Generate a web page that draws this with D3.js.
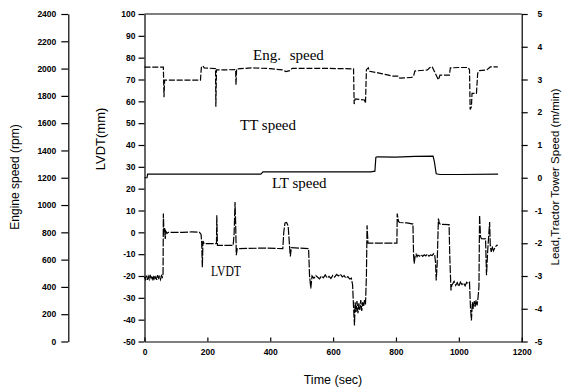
<!DOCTYPE html>
<html>
<head>
<meta charset="utf-8">
<script src="https://cdn.jsdelivr.net/npm/d3@7"></script>
<style>
body { margin: 0; background: #fff; }
svg { display: block; font-family: "Liberation Sans", Arial, sans-serif; }
.tick text { font-size: 8.5px; font-weight: bold; fill: #000; }
.domain, .tick line { stroke: #000; stroke-width: 1.2; }
.title { font-size: 12px; fill: #000; }
.note { font-family: "Liberation Serif", "Times New Roman", serif; font-size: 15px; fill: #000; }
.trace { fill: none; stroke: #000; stroke-width: 1.2; }
</style>
</head>
<body>
<svg id="main-svg" width="564" height="389"></svg>
<script>
// values
const timeTicks = [0, 200, 400, 600, 800, 1000, 1200];
const engTicks = [0, 200, 400, 600, 800, 1000, 1200, 1400, 1600, 1800, 2000, 2200, 2400];
const lvdtTicks = [-50, -40, -30, -20, -10, 0, 10, 20, 30, 40, 50, 60, 70, 80, 90, 100];
const speedTicks = [-5, -4, -3, -2, -1, 0, 1, 2, 3, 4, 5];

const engTime = [0, 60, 62, 64, 178, 181, 186, 190, 226, 227, 229, 290, 291, 293, 340, 400, 440, 450, 462, 470,
	560, 665, 667, 670, 700, 703, 706, 712, 716, 735, 750, 765, 790, 808, 812, 850, 856, 860, 900, 908,
	915, 920, 935, 940, 970, 973, 1000, 1030, 1034, 1036, 1040, 1042, 1056, 1060, 1064, 1089, 1100, 1124];
const engRpm = [2010, 2010, 1790, 1915, 1915, 2010, 2020, 2005, 2000, 1720, 1990, 1992, 1880, 1998, 2005, 2000, 1990, 1978, 1985, 2002,
	2002, 1998, 1740, 1778, 1770, 1745, 1992, 2005, 1980, 1972, 1965, 1958, 1945, 1945, 1930, 1935, 1945, 1982, 1990, 2008,
	2015, 1990, 1918, 1952, 1952, 2005, 2008, 2008, 1990, 1700, 1720, 1818, 1818, 1965, 1985, 1990, 2012, 2012];

const ltTime = [0, 8, 10, 370, 377, 720, 733, 736, 740, 800, 860, 918, 922, 928, 940, 1000, 1125];
const ltSpeed = [0.0, 0.0, 0.11, 0.11, 0.18, 0.18, 0.2, 0.62, 0.64, 0.63, 0.65, 0.66, 0.5, 0.12, 0.1, 0.1, 0.11];

const lvdtTime = [0, 3, 6, 9, 12, 15, 18, 21, 24, 27, 30, 33, 36, 39, 42, 45, 48, 51, 54, 57,
	59, 60, 62, 64, 66, 68, 72, 76, 120, 150, 175, 180, 182, 184, 186, 190, 226, 229, 230, 232,
	282, 285, 288, 290, 292, 295, 380, 440, 443, 447, 452, 457, 462, 464, 467, 522, 525, 529, 533, 539,
	545, 551, 557, 563, 569, 575, 581, 587, 593, 599, 605, 611, 617, 623, 629, 635, 641, 647, 653, 658,
	662, 665, 668, 670, 673, 676, 679, 682, 685, 688, 691, 694, 697, 700, 703, 706, 708, 711, 800, 803,
	804, 808, 812, 835, 854, 856, 858, 861, 864, 867, 870, 875, 880, 885, 890, 895, 900, 905, 910, 915,
	920, 923, 926, 928, 931, 935, 938, 941, 969, 971, 975, 978, 981, 985, 990, 995, 1000, 1005, 1010, 1015,
	1020, 1025, 1030, 1034, 1037, 1040, 1043, 1046, 1049, 1052, 1055, 1058, 1061, 1064, 1066, 1069, 1072, 1085, 1088, 1092,
	1098, 1100, 1103, 1106, 1110, 1115, 1120, 1124];
const lvdtMm = [-20.5, -21.5, -19.8, -21.8, -20.2, -21.5, -19.5, -21, -20, -22, -19.8, -21.2, -20.4, -21.8, -19.6, -21, -20.2, -21.6, -19.8, -20.5,
	-19, 8.6, -1, 2, -3, 0.5, -0.5, 0, 0, 0.2, 0, -1, -5, -16, -4, -5.2, -5.2, -5, 7.8, -6,
	-6, -1, 13.9, 4, -10.5, -7.5, -7.2, -7.5, 0, 4.3, 4.5, 3, -7.5, -11, -7, -7.5, -19.7, -25.7, -20, -21,
	-19.8, -20.6, -21.3, -20, -20.8, -19.5, -20.9, -20.2, -21.1, -19.7, -20.5, -19.3, -20, -19.1, -20.4, -19.8, -21, -20.3, -21.4, -21,
	-24, -34, -42.7, -32, -36.5, -31.5, -37, -32.5, -35.5, -31, -36, -32, -34, -31, -33, -20, 3.2, -4.9, -4.9, -4.9,
	8.6, 5, 4.5, 4.3, 3.8, -10.5, -14.3, -10.8, -10, -11.2, -10.4, -10.9, -10.2, -11, -10.3, -10.8, -10, -10.9, -10.3, -10.6,
	-9.8, -10, -14, -22, -15, 6.3, 4.2, 3.7, 3.5, -10, -26.6, -24, -23.5, -22.5, -24.3, -23, -24.8, -22.8, -23.9, -23.2,
	-24.5, -22.9, -23.6, -23, -34.3, -40.4, -32, -35, -31.5, -34, -31, -33.5, -30, -25, 7.8, -2, -2.9, -3, -19.7, -8,
	4.7, -6, -9, -6.5, -8.5, -7, -6, -6];

const plotLeft = 144.5, plotRight = 521.7, plotTop = 14, plotBottom = 341.5;

var svg = d3.select('#main-svg');

var x = d3.scaleLinear().domain([0, 1200]).range([plotLeft, plotRight]);
var yEng = d3.scaleLinear().domain([0, 2400]).range([plotBottom, plotTop]);
var yLvdt = d3.scaleLinear().domain([-50, 100]).range([plotBottom, plotTop]);
var ySpeed = d3.scaleLinear().domain([-5, 5]).range([plotBottom, plotTop]);

var plain = d => String(d);

// frame top
svg.append('line')
	.attr('x1', plotLeft).attr('x2', plotRight)
	.attr('y1', plotTop).attr('y2', plotTop)
	.attr('stroke', '#000').attr('stroke-width', 1.2);

svg.append('g')
	.attr('transform', `translate(0,${plotBottom})`)
	.call(d3.axisBottom(x).tickValues(timeTicks).tickFormat(plain)
		.tickSizeInner(-4).tickSizeOuter(0).tickPadding(7));

svg.append('g')
	.attr('transform', `translate(${plotLeft},0)`)
	.call(d3.axisLeft(yLvdt).tickValues(lvdtTicks).tickFormat(plain)
		.tickSizeInner(6).tickSizeOuter(0).tickPadding(3));

svg.append('g')
	.attr('transform', 'translate(68.3,0)')
	.call(d3.axisLeft(yEng).tickValues(engTicks).tickFormat(plain)
		.tickSizeInner(7).tickSizeOuter(0).tickPadding(5));

svg.append('g')
	.attr('transform', `translate(${plotRight},0)`)
	.call(d3.axisRight(ySpeed).tickValues(speedTicks).tickFormat(plain)
		.tickSizeInner(6).tickSizeOuter(0))
	.selectAll('text')
	.attr('text-anchor', 'end')
	.attr('x', 20.5);

// axis titles
svg.append('text')
	.classed('title', true)
	.attr('transform', 'translate(19,177) rotate(-90)')
	.attr('text-anchor', 'middle')
	.text('Engine speed (rpm)');

svg.append('text')
	.classed('title', true)
	.attr('transform', 'translate(105,139) rotate(-90)')
	.attr('text-anchor', 'middle')
	.style('font-size', '13px')
	.text('LVDT(mm)');

svg.append('text')
	.classed('title', true)
	.attr('transform', 'translate(559,177) rotate(-90)')
	.attr('text-anchor', 'middle')
	.style('font-size', '11.5px')
	.text('Lead,Tractor Tower Speed (m/min)');

svg.append('text')
	.classed('title', true)
	.attr('x', 333).attr('y', 384)
	.attr('text-anchor', 'middle')
	.style('font-size', '12.5px')
	.text('Time (sec)');

// traces
var engLine = d3.line().x(d => x(d[0])).y(d => yEng(d[1]));
var ltLine = d3.line().x(d => x(d[0])).y(d => ySpeed(d[1]));
var lvdtLine = d3.line().x(d => x(d[0])).y(d => yLvdt(d[1]));

svg.append('path')
	.classed('trace', true)
	.attr('stroke-dasharray', '6,1.8')
	.attr('d', engLine(d3.zip(engTime, engRpm)));

svg.append('path')
	.classed('trace', true)
	.attr('d', ltLine(d3.zip(ltTime, ltSpeed)));

svg.append('path')
	.classed('trace', true)
	.attr('stroke-dasharray', '8,1.5')
	.attr('d', lvdtLine(d3.zip(lvdtTime, lvdtMm)));

// series notes
svg.append('text').classed('note', true)
	.attr('x', 253).attr('y', 60)
	.style('word-spacing', '5px')
	.text('Eng. speed');

svg.append('text').classed('note', true)
	.attr('x', 240).attr('y', 130)
	.text('TT speed');

svg.append('text').classed('note', true)
	.attr('x', 272).attr('y', 188)
	.text('LT speed');

svg.append('text').classed('note', true)
	.attr('x', 211).attr('y', 276)
	.attr('textLength', 30)
	.attr('lengthAdjust', 'spacingAndGlyphs')
	.text('LVDT');
</script>
</body>
</html>
